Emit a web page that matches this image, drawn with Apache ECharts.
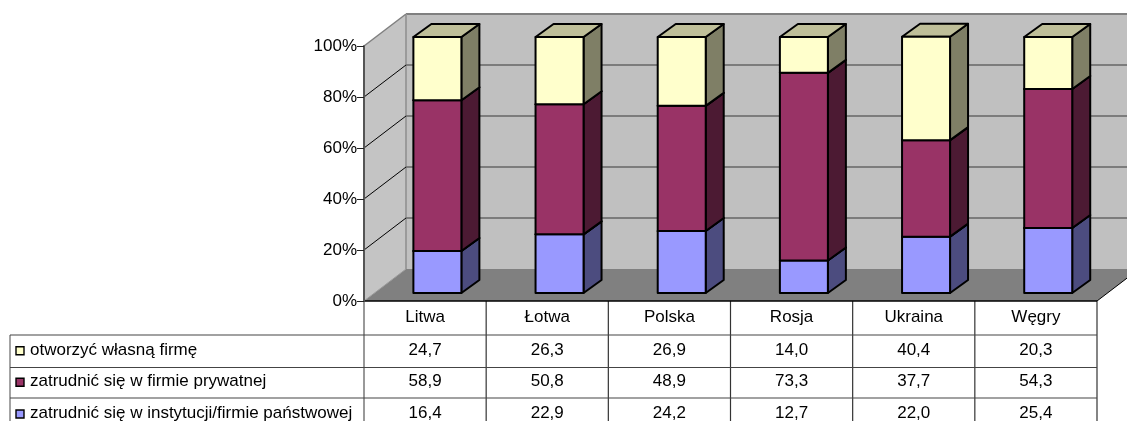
<!DOCTYPE html>
<html><head><meta charset="utf-8">
<style>html,body{margin:0;padding:0;background:#fff}#c{width:1127px;height:421px}</style>
<script src="https://cdn.jsdelivr.net/npm/echarts@6/dist/echarts.min.js"></script>
</head><body><div id="c"></div>
<script>
var categories = ['Litwa','Łotwa','Polska','Rosja','Ukraina','Węgry'];
var ownFirm = [24.7,26.3,26.9,14.0,40.4,20.3];
var privateFirm = [58.9,50.8,48.9,73.3,37.7,54.3];
var stateFirm = [16.4,22.9,24.2,12.7,22.0,25.4];
var nameOwn = 'otworzyć własną firmę';
var namePrivate = 'zatrudnić się w firmie prywatnej';
var nameState = 'zatrudnić się w instytucji/firmie państwowej';
var yTicks = [0,20,40,60,80,100];

var FONT = '"Liberation Sans", Arial, sans-serif';
var FS = 17;
var WALL = {dx:42, dy:-32};
var BAR = {ox:12.3, oy:-8, dx:18, dy:-13, w:48, h:1.004};
var ROWS = [302,335,367.5,398,430];
var TABLE_LEFT = 10;

function poly(pts, fill, stroke, lw){
  return {type:'polygon', shape:{points:pts}, style:{fill:fill, stroke:stroke||null, lineWidth:lw||0, lineJoin:'round'}};
}
function seg(a,b,color,lw){
  return {type:'line', shape:{x1:a[0],y1:a[1],x2:b[0],y2:b[1]}, style:{stroke:color, lineWidth:lw}};
}
function renderWalls(params, api){
  var g = params.coordSys, L = g.x, R = g.x+g.width, T = g.y, B = g.y+g.height;
  var dx = WALL.dx, dy = WALL.dy, kids = [];
  kids.push({type:'rect', shape:{x:L+dx,y:T+dy,width:R-L+dx,height:B-T}, style:{fill:'#C0C0C0'}});
  kids.push(poly([[L,T],[L+dx,T+dy],[L+dx,B+dy],[L,B]], '#C4C4C4'));
  kids.push(poly([[L,B],[L+dx,B+dy],[R+dx,B+dy],[R,B]], '#808080'));
  kids.push(seg([L+dx,T+dy],[R+dx,T+dy],'#808080',2));
  kids.push(seg([L+dx,T+dy],[L+dx,B+dy],'#9A9A9A',2));
  kids.push(seg([L,T],[L+dx,T+dy],'#808080',1.5));
  yTicks.forEach(function(v){
    if (v===0 || v===100) return;
    var y = api.coord([0,v])[1];
    kids.push(seg([L,y],[L+dx,y+dy],'#000',1));
    kids.push(seg([L+dx,y+dy],[R+dx,y+dy],'#666',1.6));
  });
  kids.push(seg([L,B],[L+dx,B+dy],'#9A9A9A',1));
  kids.push(seg([R,B],[R+dx,B+dy],'#000',1));
  return {type:'group', children:kids};
}
function boxRenderer(face, side, top){
  return function(params, api){
    var c = api.coord([api.value(0), api.value(1)]);
    var d = api.coord([api.value(0), api.value(2)]);
    var zero = api.coord([0,0])[1];
    var xl = c[0]-BAR.w/2+BAR.ox, xr = xl+BAR.w;
    var yb = zero+BAR.oy+(c[1]-zero)*BAR.h, yt = zero+BAR.oy+(d[1]-zero)*BAR.h;
    var k='#000', w=2, dx=BAR.dx, dy=BAR.dy;
    return {type:'group', children:[
      poly([[xr,yb],[xr+dx,yb+dy],[xr+dx,yt+dy],[xr,yt]], side, k, w),
      poly([[xl,yt],[xr,yt],[xr+dx,yt+dy],[xl+dx,yt+dy]], top, k, w),
      poly([[xl,yb],[xr,yb],[xr,yt],[xl,yt]], face, k, w)
    ]};
  };
}
function stackData(base, vals){
  return categories.map(function(_,i){ return [i, base[i], base[i]+vals[i]]; });
}
var zeros = categories.map(function(){return 0;});
var b1 = zeros;
var b2 = stateFirm.map(function(v,i){return b1[i]+v;});
var b3 = privateFirm.map(function(v,i){return b2[i]+v;});

var tableRows = [
  {name:nameOwn, vals:ownFirm, color:'#FFFFCC'},
  {name:namePrivate, vals:privateFirm, color:'#993366'},
  {name:nameState, vals:stateFirm, color:'#9999FF'}
];
function fmt(v){ return v.toFixed(1).replace('.',','); }
function renderTable(params, api){
  var g = params.coordSys, L = g.x, R = g.x+g.width, B = g.y+g.height;
  var band = api.size([1,0])[0], kids = [];
  for (var i=0;i<=categories.length;i++){
    kids.push(seg([L+band*i,B],[L+band*i,421],(i===0?'#555':'#333'),1.2));
  }
  kids.push(seg([TABLE_LEFT,ROWS[1]],[TABLE_LEFT,421],'#666',1.2));
  kids.push(seg([L,ROWS[0]-1],[R,ROWS[0]-1],'#000',1.4));
  for (var r=1;r<=3;r++) kids.push(seg([TABLE_LEFT,ROWS[r]],[R,ROWS[r]],'#444',1.2));
  tableRows.forEach(function(row,ri){
    var cy = (ROWS[ri+1]+ROWS[ri+2])/2 - 1 + (ri===2?0.5:0);
    kids.push({type:'rect', shape:{x:TABLE_LEFT+6,y:cy-3.5,width:8,height:8},
      style:{fill:row.color, stroke:'#000', lineWidth:1.4}});
    kids.push({type:'text', style:{x:TABLE_LEFT+20,y:cy,text:row.name,fill:'#000',
      font:FS+'px '+FONT, textAlign:'left', textVerticalAlign:'middle'}});
    row.vals.forEach(function(v,i){
      var x = api.coord([i,0])[0];
      kids.push({type:'text', style:{x:x,y:cy,text:fmt(v),fill:'#000',
        font:FS+'px '+FONT, textAlign:'center', textVerticalAlign:'middle'}});
    });
  });
  return {type:'group', children:kids};
}

var chart = echarts.init(document.getElementById('c'), null, {renderer:'canvas'});
chart.setOption({
  animation:false,
  backgroundColor:'#fff',
  grid:{left:364, right:30, top:46, bottom:120, containLabel:false},
  xAxis:{type:'category', data:categories, z:6,
    axisLine:{show:false}, axisTick:{show:false}, splitLine:{show:false},
    axisLabel:{color:'#000', fontFamily:FONT, fontSize:FS, margin:8}},
  yAxis:{type:'value', min:0, max:100, interval:20, z:6,
    axisLine:{show:true, lineStyle:{color:'#555', width:2}},
    axisTick:{show:true, length:7, lineStyle:{color:'#222', width:1}},
    splitLine:{show:false},
    axisLabel:{color:'#000', fontFamily:FONT, fontSize:FS, margin:7, padding:[0,0,3,0], formatter:'{value}%'}},
  series:[
    {type:'custom', name:'walls', clip:false, z:1, silent:true, data:[[0,0]], renderItem:renderWalls},
    {type:'custom', name:nameState, clip:false, z:2, encode:{x:0,y:[1,2]}, data:stackData(b1,stateFirm),
      renderItem:boxRenderer('#9999FF','#4C4C7F','#7A7ACC')},
    {type:'custom', name:namePrivate, clip:false, z:3, encode:{x:0,y:[1,2]}, data:stackData(b2,privateFirm),
      renderItem:boxRenderer('#993366','#4C1A33','#7A2952')},
    {type:'custom', name:nameOwn, clip:false, z:4, encode:{x:0,y:[1,2]}, data:stackData(b3,ownFirm),
      renderItem:boxRenderer('#FFFFCC','#7F7F66','#BFBF99')},
    {type:'custom', name:'table', clip:false, z:5, silent:true, data:[[0,0]], renderItem:renderTable}
  ]
});
</script></body></html>
